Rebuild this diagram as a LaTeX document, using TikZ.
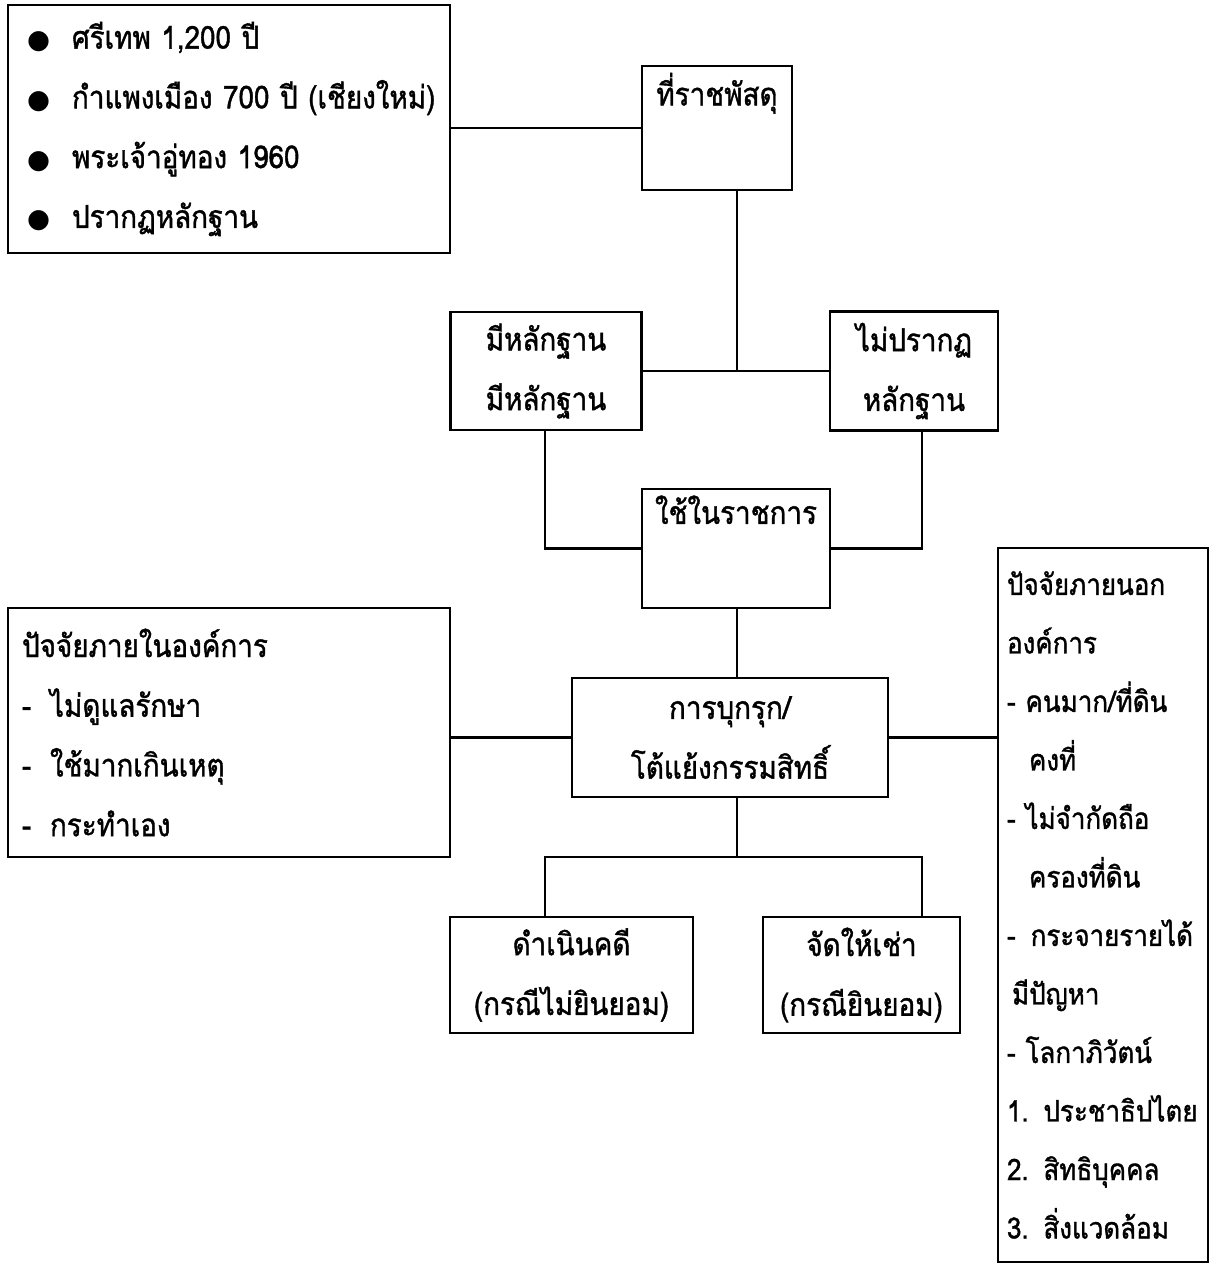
\documentclass[tikz,border=0pt]{standalone}
\usepackage{fontspec}
\setmainfont[Script=Thai, FakeStretch=0.88, FakeBold=1.2]{Loma}
\newfontfamily\symfont{DejaVu Sans}
\usepackage{tikz}
\usetikzlibrary{positioning}
\newcommand{\thaitext}{\fontsize{18}{34}\selectfont}
\newcommand{\bul}{\makebox[0.9cm][l]{\symfont\fontsize{15}{15}\selectfont ●}}
\newcommand{\lead}{\makebox[0.56cm][l]{-}}
\tikzstyle{topic} = [rectangle, draw=black, line width=1.5pt, align=center, font=\thaitext, inner sep=0pt]
\tikzstyle{listing} = [rectangle, draw=black, line width=1.5pt, align=left, font=\thaitext, inner ysep=0pt]
\tikzstyle{link} = [line width=1.5pt]

\begin{document}
\begin{tikzpicture}[x=0.02cm, y=-0.02cm]
\useasboundingbox (0,0) rectangle (1215,1266);
% columns shared by the connectors
\coordinate (spine) at (737,0);
\coordinate (colL) at (545,0);
\coordinate (colR) at (922,0);
\coordinate (fork) at (737,857);

\node (dates) [listing, minimum width=8.84cm, minimum height=4.96cm, inner xsep=0.38cm, text width=8.08cm] at (229,129)
  {\mbox{\bul ศรีเทพ 1,200 ปี}\\ \mbox{\bul กำแพงเมือง 700 ปี (เชียงใหม่)}\\ \mbox{\bul พระเจ้าอู่ทอง 1960}\\ \mbox{\bul ปรากฏหลักฐาน}};
\node (land) [topic, minimum width=3.0cm, minimum height=2.48cm] at (717,128) {ที่ราชพัสดุ\\\strut};
\node (evid) [topic, minimum width=3.82cm, minimum height=2.36cm] at (546,371) {มีหลักฐาน\\มีหลักฐาน};
\node (noevid) [topic, minimum width=3.36cm, minimum height=2.38cm] at (914,371) {ไม่ปรากฏ\\หลักฐาน};
\node (use) [topic, minimum width=3.76cm, minimum height=2.38cm] at (736,548.5) {ใช้ในราชการ\\\strut};
\node (trespass) [topic, minimum width=6.32cm, minimum height=2.38cm] at (730,737.5) {การบุกรุก/\\โต้แย้งกรรมสิทธิ์};
\node (inner) [listing, minimum width=8.84cm, minimum height=4.98cm, inner xsep=0.28cm, text width=8.28cm] at (229,732.5)
  {ปัจจัยภายในองค์การ\\ \mbox{\lead ไม่ดูแลรักษา}\\ \mbox{\lead ใช้มากเกินเหตุ}\\ \mbox{\lead กระทำเอง}};
\node (outer) [listing, minimum width=4.2cm, minimum height=14.28cm, inner xsep=0.18cm, text width=3.84cm, font=\fontsize{16.8}{33.3}\selectfont] at (1103,905)
  {ปัจจัยภายนอก\\ องค์การ\\ \mbox{- คนมาก/ที่ดิน}\\ \hspace*{0.44cm}คงที่\\ \mbox{- ไม่จำกัดถือ}\\ \hspace*{0.44cm}ครองที่ดิน\\
   \mbox{-\hspace{0.3cm}กระจายรายได้}\\ \hspace*{0.1cm}มีปัญหา\\ \mbox{- โลกาภิวัตน์}\\ \mbox{1. ประชาธิปไตย}\\ \mbox{2. สิทธิบุคคล}\\ \mbox{3. สิ่งแวดล้อม}};
\node (sue) [topic, minimum width=4.86cm, minimum height=2.32cm] at (571.5,975) {ดำเนินคดี\\(กรณีไม่ยินยอม)};
\node (lease) [topic, minimum width=3.94cm, minimum height=2.32cm] at (861.5,975) {จัดให้เช่า\\(กรณียินยอม)};

\draw [link] (land.west -| dates.east) -- (land.west);
\draw [link] (land.south -| spine) -- (spine |- evid.east);
\draw [link] (evid.east) -- (evid.east -| noevid.west);
\draw [link] (evid.south -| colL) |- (use.west);
\draw [link] (noevid.south -| colR) |- (use.east);
\draw [link] (use.south -| spine) -- (spine |- trespass.north);
\draw [link] (trespass.west -| inner.east) -- (trespass.west);
\draw [link] (trespass.east) -- (trespass.east -| outer.west);
\draw [link] (trespass.south -| fork) -- (fork);
\draw [link] (sue.north -| colL) |- (fork) -| (lease.north -| colR);
\end{tikzpicture}
\end{document}
